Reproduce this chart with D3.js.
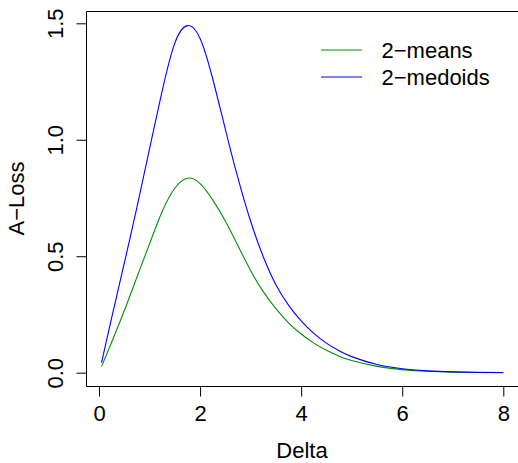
<!DOCTYPE html>
<html>
<head>
<meta charset="utf-8">
<script src="https://cdn.jsdelivr.net/npm/d3@7"></script>
<style>
  html, body { margin: 0; padding: 0; background: #fff; }
  svg { display: block; font-family: "Liberation Sans", Arial, Helvetica, sans-serif; }
</style>
</head>
<body>
<svg id="chart" width="518" height="463"></svg>
<script>
// Delta values at which the loss was evaluated
const delta = [0.05, 0.25, 0.5, 0.75, 1.0, 1.25, 1.5, 1.75, 2.0, 2.25, 2.5, 2.75,
               3.0, 3.25, 3.5, 3.75, 4.0, 4.25, 4.5, 4.75, 5.0, 5.5, 6.0, 6.5, 7.0, 7.5, 8.0];
// A-Loss of the 2-means procedure
const lossMeans = [0.026, 0.131, 0.266, 0.41, 0.553, 0.692, 0.792, 0.835, 0.812, 0.742, 0.651, 0.545,
                   0.439, 0.348, 0.275, 0.214, 0.166, 0.127, 0.096, 0.071, 0.052, 0.027, 0.013, 0.006, 0.0025, 0.001, 0.0005];
// A-Loss of the 2-medoids procedure
const lossMedoids = [0.043, 0.235, 0.47, 0.71, 0.962, 1.21, 1.415, 1.49, 1.435, 1.262, 1.045, 0.835,
                     0.650, 0.498, 0.378, 0.290, 0.222, 0.169, 0.127, 0.094, 0.069, 0.035, 0.017, 0.008, 0.0035, 0.0015, 0.0007];

const xTicks = [0, 2, 4, 6, 8];
const yTicks = [0.0, 0.5, 1.0, 1.5];
const seriesNames = ["2\u2212means", "2\u2212medoids"];
const seriesColors = ["#009000", "#0000ff"];

const svg = d3.select("#chart");
const plot = { left: 86, top: 11, right: 518, bottom: 386 };

const x = d3.scaleLinear().domain([0, 8]).range([99, 503.3]);
const y = d3.scaleLinear().domain([0, 1.5]).range([372.7, 23.3]);

const fontSize = 22;

// Plot frame (left, top and bottom edges)
svg.append("path")
  .attr("d", `M${plot.right + 2},${plot.top + 0.5}H${plot.left + 0.5}V${plot.bottom + 0.5}H${plot.right + 2}`)
  .attr("fill", "none").attr("stroke", "#000").attr("stroke-width", 1);

// X axis
const xAxis = d3.axisBottom(x).tickValues(xTicks).tickSize(10).tickPadding(9)
  .tickFormat(d3.format("d"));
const gx = svg.append("g").attr("transform", `translate(0,${plot.bottom + 0.5})`).call(xAxis);
gx.select(".domain").remove();
gx.selectAll("line").attr("stroke", "#000");
gx.selectAll("text").attr("font-size", fontSize).attr("fill", "#000")
  .attr("font-family", "Liberation Sans, Arial, sans-serif");

// Y axis
const yAxis = d3.axisLeft(y).tickValues(yTicks).tickSize(10).tickFormat(d3.format(".1f"));
const gy = svg.append("g").attr("transform", `translate(${plot.left + 0.5},0)`).call(yAxis);
gy.select(".domain").remove();
gy.selectAll("line").attr("stroke", "#000");
gy.selectAll("text")
  .attr("font-size", fontSize).attr("fill", "#000")
  .attr("font-family", "Liberation Sans, Arial, sans-serif")
  .attr("x", null).attr("dy", null)
  .attr("text-anchor", "middle")
  .attr("transform", "translate(-24,0) rotate(-90)");

// Axis titles
svg.append("text").attr("x", 302).attr("y", 458)
  .attr("text-anchor", "middle").attr("font-size", fontSize).text("Delta");
svg.append("text")
  .attr("transform", `translate(24,${(plot.top + plot.bottom) / 2}) rotate(-90)`)
  .attr("text-anchor", "middle").attr("font-size", fontSize).text("A\u2212Loss");

// Curves
const line = d3.line().x(d => x(d[0])).y(d => y(d[1])).curve(d3.curveNatural);
[lossMeans, lossMedoids].forEach((vals, i) => {
  svg.append("path")
    .datum(delta.map((d, j) => [d, vals[j]]))
    .attr("d", line)
    .attr("fill", "none")
    .attr("stroke", seriesColors[i])
    .attr("stroke-width", 1.1);
});

// Legend
const legendY = [50, 77];
seriesNames.forEach((name, i) => {
  svg.append("line")
    .attr("x1", 321).attr("x2", 362)
    .attr("y1", legendY[i]).attr("y2", legendY[i])
    .attr("stroke", seriesColors[i]).attr("stroke-width", 1.1);
  svg.append("text")
    .attr("x", 381.5).attr("y", legendY[i])
    .attr("dy", "0.35em")
    .attr("font-size", fontSize).text(name);
});
</script>
</body>
</html>
